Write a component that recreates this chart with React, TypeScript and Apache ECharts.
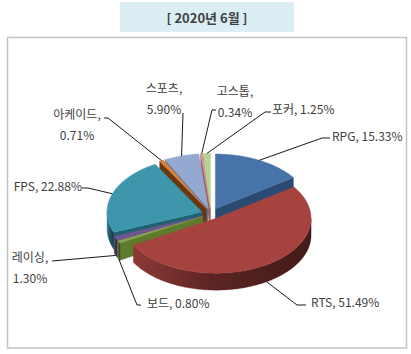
import React, { useEffect, useRef } from "react";
import * as echarts from "echarts";

// ---- data ----
const categories = ["RPG", "RTS", "보드", "레이싱", "FPS", "아케이드", "스포츠", "고스톱", "포커"];
const shares = [15.33, 51.49, 0.8, 1.3, 22.88, 0.71, 5.9, 0.34, 1.25];
const wrapLabel = [false, false, false, true, false, true, true, true, false];
const titleText = "[ 2020년 6월 ]";

// ---- styles ----
const topColors = ["#4673A8", "#A6433F", "#86A44C", "#6F5692", "#3E96AD", "#DD8136", "#93A9D1", "#D39593", "#BBD097"];
const wallColors = ["#2A4A72", "#6E2A28", "#5E7B2C", "#5D4680", "#1E6272", "#6A3810", "#6577A0", "#9A5E5C", "#8EA468"];
const FONT = "'Noto Sans CJK KR', sans-serif";
const TEXT_COLOR = "#404040";

// ---- layout ----
const W = 411;
const H = 354;
const CX = 211;
const CY = 213.7;
const RX = 95;
const RY = 54.8;
const DEPTH = 17;
const EXPLODE = 9.5;

// label anchor positions (text block center) and leader elbow points
const labelLayout: { tx: number; ty: number; align: string; pts: number[][] }[] = [
  { tx: 332, ty: 135, align: "left", pts: [[322, 138], [330, 138]] },
  { tx: 311, ty: 301, align: "left", pts: [[297, 305], [306, 305]] },
  { tx: 147, ty: 302, align: "left", pts: [[137, 305], [141, 305]] },
  { tx: 30, ty: 267, align: "center", pts: [[52, 261]] },
  { tx: 82, ty: 185, align: "right", pts: [[88, 188], [82, 188]] },
  { tx: 77, ty: 123.5, align: "center", pts: [[108, 118], [104, 118]] },
  { tx: 164, ty: 97.5, align: "center", pts: [[183, 113]] },
  { tx: 235, ty: 100.5, align: "center", pts: [[212, 110], [216, 110]] },
  { tx: 272, ty: 108, align: "left", pts: [[265, 112], [271, 112]] },
];

function shade(hex: string, f: number) {
  const n = parseInt(hex.slice(1), 16);
  const r = Math.round(((n >> 16) & 255) * f);
  const g = Math.round(((n >> 8) & 255) * f);
  const b = Math.round((n & 255) * f);
  return `rgb(${r},${g},${b})`;
}

export default function App() {
  const ref = useRef<HTMLDivElement>(null);
  useEffect(() => {
    document.body.style.margin = "0";
    if (!ref.current) return;
    const chart = echarts.init(ref.current, null, { renderer: "svg" });

    const total = shares.reduce((a, b) => a + b, 0);
    const starts: number[] = [];
    const ends: number[] = [];
    let acc = 0;
    shares.forEach((v) => {
      starts.push((acc / total) * 360);
      acc += v;
      ends.push((acc / total) * 360);
    });
    const K = RY / RX;
    const rad = (d: number) => (d * Math.PI) / 180;

    const renderItem = (params: any, api: any) => {
      const i = params.dataIndex;
      const a0 = starts[i];
      const a1 = ends[i];
      const mid = (a0 + a1) / 2;
      const ax = CX + EXPLODE * Math.sin(rad(mid));
      const ay = CY - EXPLODE * K * Math.cos(rad(mid));
      const rim = (a: number, dz = 0) => [ax + RX * Math.sin(rad(a)), ay - RY * Math.cos(rad(a)) + dz];
      const arc = (from: number, to: number, dz = 0) => {
        const n = Math.max(2, Math.ceil(Math.abs(to - from)) + 1);
        const out: number[][] = [];
        for (let k = 0; k < n; k++) out.push(rim(from + ((to - from) * k) / (n - 1), dz));
        return out;
      };
      const top = topColors[i];
      const wall = wallColors[i];
      const children: any[] = [];

      // top face
      children.push({
        type: "polygon",
        shape: { points: [[ax, ay], ...arc(a0, a1)] },
        style: { fill: top, stroke: top, lineWidth: 0.4 },
        z2: 1000 + i,
      });

      // outer curved wall (front half only)
      const w0 = Math.max(a0, 90);
      const w1 = Math.min(a1, 270);
      if (w1 > w0) {
        const ta = arc(w0, w1);
        const ba = arc(w1, w0, DEPTH);
        const pts = [...ta, ...ba];
        const cy = pts.reduce((s, p) => s + p[1], 0) / pts.length;
        const grad = new echarts.graphic.LinearGradient(0, 0, 1, 0, [
          { offset: 0, color: shade(top, 0.85) },
          { offset: 0.45, color: shade(top, 0.55) },
          { offset: 1, color: shade(top, 0.4) },
        ]);
        children.push({
          type: "polygon",
          shape: { points: pts },
          style: { fill: grad, stroke: grad, lineWidth: 0.4 },
          z2: cy + 5,
        });
      }

      // radial walls
      const radialWall = (a: number) => {
        const r0 = rim(a);
        const pts = [[ax, ay], r0, [r0[0], r0[1] + DEPTH], [ax, ay + DEPTH]];
        const cy = pts.reduce((s, p) => s + p[1], 0) / 4;
        children.push({
          type: "polygon",
          shape: { points: pts },
          style: { fill: wall, stroke: wall, lineWidth: 0.4 },
          z2: cy,
        });
      };
      if (Math.sin(rad(a0)) < -1e-6) radialWall(a0);
      if (Math.sin(rad(a1)) > 1e-6) radialWall(a1);

      // leader line + label
      const lay = labelLayout[i];
      const start = Math.cos(rad(mid)) < 0 ? rim(mid, DEPTH) : rim(mid);
      children.push({
        type: "polyline",
        shape: { points: [start, ...lay.pts] },
        style: { stroke: "#1a1a1a", lineWidth: 1, fill: null },
        z2: 2000,
      });
      const val = api.value(0) as number;
      const txt = wrapLabel[i]
        ? `${categories[i]},\n${val.toFixed(2)}%`
        : `${categories[i]}, ${val.toFixed(2)}%`;
      children.push({
        type: "text",
        style: {
          text: txt,
          x: lay.tx,
          y: lay.ty,
          align: lay.align,
          verticalAlign: "middle",
          fontSize: 12,
          fontFamily: FONT,
          lineHeight: 21,
          fill: TEXT_COLOR,
        },
        z2: 2001,
      });
      return { type: "group", children };
    };

    chart.setOption({
      animation: false,
      graphic: [
        {
          type: "rect",
          shape: { x: 7.5, y: 37.5, width: 399, height: 310.5 },
          style: { fill: "#ffffff", stroke: "#c4c4c4", lineWidth: 1.5 },
          z: -10,
        },
        {
          type: "rect",
          shape: { x: 120, y: 2, width: 174, height: 30 },
          style: { fill: "#DAEEF3" },
          z: -10,
        },
        {
          type: "text",
          style: {
            text: titleText,
            x: 207,
            y: 17,
            align: "center",
            verticalAlign: "middle",
            textAlign: "center",
            textVerticalAlign: "middle",
            fontSize: 13,
            fontWeight: "bold",
            fontFamily: FONT,
            fill: "#404040",
          },
          z: -9,
        },
      ],
      series: [
        {
          type: "custom",
          coordinateSystem: "none",
          silent: true,
          data: shares.map((v, i) => ({ name: categories[i], value: [v] })),
          renderItem,
        },
      ],
    });
    return () => chart.dispose();
  }, []);
  return <div ref={ref} style={{ width: W, height: H, background: "#ffffff" }} />;
}
